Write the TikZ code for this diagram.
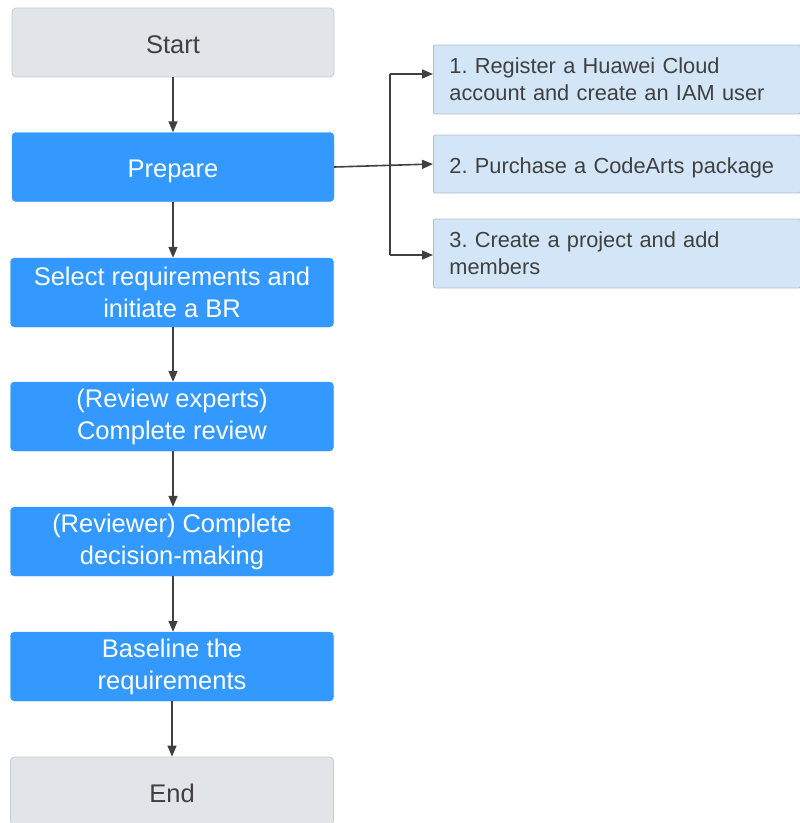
\documentclass[tikz,border=0pt]{standalone}
\usepackage{fontspec}
\setmainfont{Liberation Sans}
\usetikzlibrary{arrows.meta}
\definecolor{graybox}{HTML}{E1E4E8}
\definecolor{grayline}{HTML}{C8CBD0}
\definecolor{bluebox}{HTML}{3399FF}
\definecolor{lightbox}{HTML}{D3E6F8}
\definecolor{lightline}{HTML}{B4BEC8}
\definecolor{txt}{HTML}{404040}
\definecolor{conn}{HTML}{404040}
\tikzset{
  base/.style={rounded corners=4pt, minimum width=323pt, minimum height=69pt, inner sep=0pt, align=center, font=\fontsize{25.5}{32}\selectfont},
  termbox/.style={base, fill=graybox, draw=grayline, line width=0.8pt, text=txt},
  stepbox/.style={base, fill=bluebox, draw=bluebox, text=white},
  subbox/.style={rounded corners=2pt, fill=lightbox, draw=lightline, line width=0.8pt, text=txt, inner sep=0pt, minimum width=367pt, anchor=west, align=left, text width=335pt, font=\fontsize{21.8}{27}\selectfont},
  oneline/.style={text depth=0pt},
  conn/.style={draw=conn, line width=1.6pt, -{Triangle[length=11pt,width=9pt]}},
  line/.style={draw=conn, line width=1.6pt}
}
\begin{document}
\frenchspacing
\begin{tikzpicture}[x=1pt,y=-1pt]
\useasboundingbox (0,0) rectangle (800,823);
\node[termbox, oneline, text height=22pt, minimum width=322pt] (start) at (173,42.5) {Start};
\node[stepbox, oneline, text height=21pt, minimum width=322pt] (prep) at (173,167) {Prepare};
\node[stepbox] (sel) at (172,292.5) {Select requirements and\\initiate a BR};
\node[stepbox] (rev) at (172,416.5) {(Review experts)\\Complete review};
\node[stepbox] (dec) at (172,541.5) {(Reviewer) Complete\\decision-making};
\node[stepbox] (base) at (172,666.5) {Baseline the\\requirements};
\node[termbox, oneline, text height=22pt, minimum height=68pt] (end) at (172,791) {End};

\node[subbox, minimum height=69pt] (s1) at (433,79.5) {1. Register a Huawei Cloud\\account and create an IAM user};
\node[subbox, oneline, text height=19pt, minimum height=58pt] (s2) at (433,164) {2. Purchase a CodeArts package};
\node[subbox, minimum height=69pt] (s3) at (433,253.5) {3. Create a project and add\\members};

\draw[conn] (start.south -| 173,0) -- (prep.north -| 173,0);
\draw[conn] (prep.south -| 173,0) -- (sel.north -| 173,0);
\draw[conn] (sel.south -| 173,0) -- (rev.north -| 173,0);
\draw[conn] (rev.south -| 173,0) -- (dec.north -| 173,0);
\draw[conn] (dec.south -| 173,0) -- (base.north -| 173,0);
\draw[conn] (base.south -| 172,0) -- (end.north -| 172,0);

\coordinate (jt) at (390,74);
\coordinate (jb) at (390,255);
\draw[conn] (prep.east) -- (s2.west);
\draw[line] (jb) -- (jt);
\draw[conn] (jt) -- (jt -| s1.west);
\draw[conn] (jb) -- (jb -| s3.west);
\end{tikzpicture}
\end{document}
